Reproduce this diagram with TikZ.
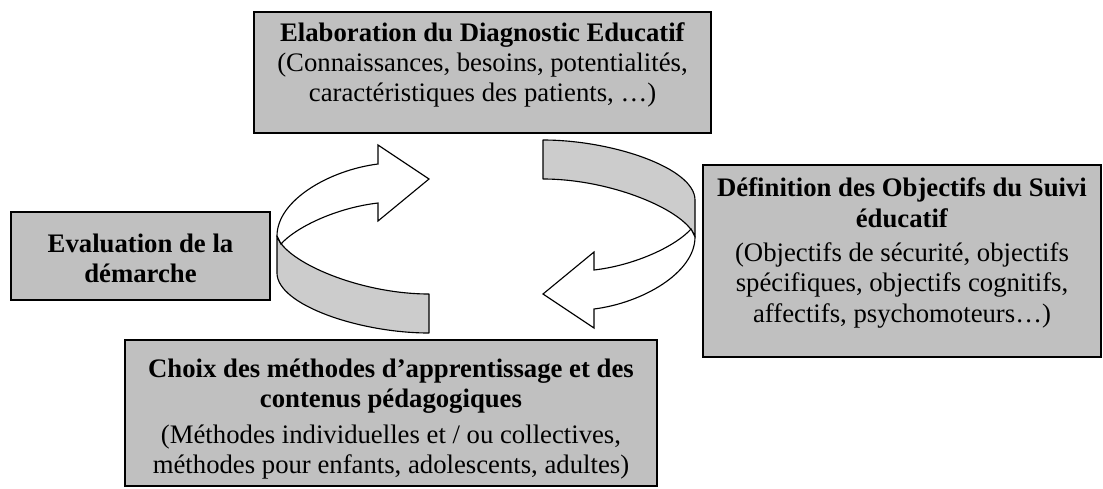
\documentclass[tikz,border=0pt]{standalone}
\usepackage{fontspec}
\setmainfont{Liberation Serif}
\usetikzlibrary{positioning}
\definecolor{boxgray}{RGB}{192,192,192}
\definecolor{ribbongray}{RGB}{204,204,204}

\tikzset{
  box/.style={draw, fill=boxgray, line width=1pt},
  txt/.style={align=center, font=\fontsize{19}{21.5}\selectfont, inner sep=0pt},
  ribbon/.style={draw, fill=ribbongray, line width=0.8pt, line join=round},
  band/.style={draw, fill=white, line width=0.8pt},
}

% one curled arrow of the cycle, in pixel units
\newcommand{\cyclearrow}{%
  \draw[ribbon] (277,236) .. controls (285,262) and (360,294) .. (429,294)
    -- (429,333) .. controls (360,333) and (277,305) .. (277,273) -- cycle;
  \draw[band] (378,164) -- (378,145) -- (429,179) -- (378,221) -- (378,203)
    .. controls (335,208) and (295,228) .. (281,244) -- (277,236)
    .. controls (277,200) and (330,170) .. (378,164) -- cycle;
}

\begin{document}
\begin{tikzpicture}[x=0.025cm, y=-0.025cm]
  \useasboundingbox (0,0) rectangle (1103,488);

  % boxes
  \draw[box] (254,12) rectangle (711,133);
  \draw[box] (11,212) rectangle (270,300);
  \draw[box] (703,165) rectangle (1101,357);
  \draw[box] (125,340) rectangle (657,486);

  \node[txt] (diag) at (482.5,65) {\textbf{Elaboration du Diagnostic Educatif}\\
    (Connaissances, besoins, potentialités,\\caractéristiques des patients, …)};
  \node[txt] (eval) at (140.5,258) {\textbf{Evaluation de la}\\\textbf{démarche}};
  \node[txt] (obj) at (902,253) {\textbf{Définition des Objectifs du Suivi}\\
    \textbf{éducatif}\\[3pt](Objectifs de sécurité, objectifs\\
    spécifiques, objectifs cognitifs,\\affectifs, psychomoteurs…)};
  \node[txt] (meth) at (391,419) {\textbf{Choix des méthodes d’apprentissage et des}\\
    \textbf{contenus pédagogiques}\\[4pt](Méthodes individuelles et / ou collectives,\\
    méthodes pour enfants, adolescents, adultes)};

  % the two curled arrows
  \cyclearrow
  \begin{scope}[rotate around={180:(486,236.5)}]
    \cyclearrow
  \end{scope}
\end{tikzpicture}
\end{document}
